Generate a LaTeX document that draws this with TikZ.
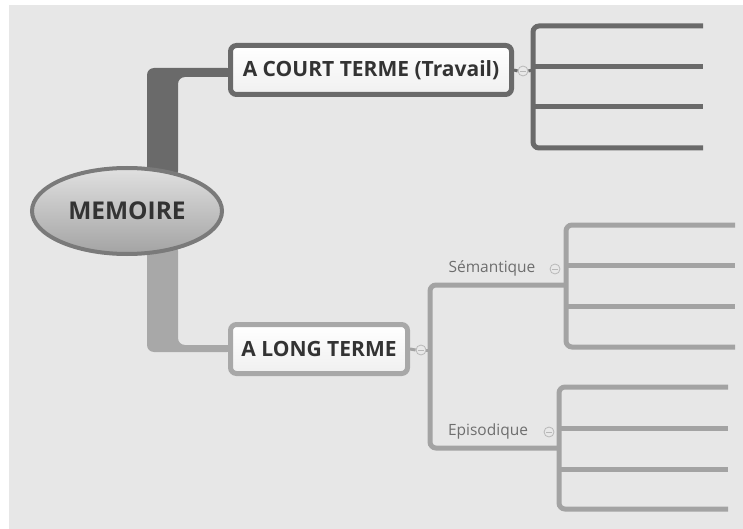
\documentclass[tikz,border=0pt]{standalone}
\usepackage{fontspec}
\setmainfont{Open Sans}
\usetikzlibrary{shapes.geometric,calc,backgrounds}
\definecolor{bgc}{HTML}{E7E7E7}
\definecolor{topc}{HTML}{6A6A6A}
\definecolor{lowc}{HTML}{A3A3A3}
\definecolor{barlow}{HTML}{A8A8A8}
\definecolor{txtc}{HTML}{333333}
\definecolor{lblc}{HTML}{6E6E6E}
\definecolor{icoc}{HTML}{B8B8B8}
\tikzset{
  topicbox/.style={rectangle,rounded corners=6pt,line width=5pt,inner sep=0pt,
    minimum height=49pt,top color=white,bottom color=black!6,text=txtc,
    font=\bfseries\fontsize{21}{24}\selectfont},
  central/.style={ellipse,line width=4pt,draw=black!52,inner sep=0pt,
    minimum width=190pt,minimum height=86pt,top color=black!12,bottom color=black!36,
    text=txtc,font=\bfseries\fontsize{24.5}{28}\selectfont},
  sublabel/.style={inner sep=0pt,text=lblc,font=\fontsize{15.5}{18}\selectfont},
  icon/.style={circle,draw=icoc,fill=black!9,line width=0.8pt,minimum size=10pt,inner sep=0pt,
    path picture={\draw[icoc,line width=0.8pt] ([xshift=-2.6pt]path picture bounding box.center) -- ([xshift=2.6pt]path picture bounding box.center);}},
  toplines/.style={draw=topc,line width=5pt},
  lowlines/.style={draw=lowc,line width=5pt},
}
\begin{document}
\begin{tikzpicture}[x=1pt,y=-1pt]
\useasboundingbox (0,0) rectangle (743,529);

% nodes
\node[central] (mem) at (127,211) {MEMOIRE};
\node[topicbox,draw=topc,minimum width=281pt] (court) at (371,70) {A COURT TERME (Travail)};
\node[topicbox,draw=barlow,minimum width=177pt] (long) at (319,349) {A LONG TERME};
\node[icon] (ic1) at (523,71) {};
\node[icon] (ic2) at (421,350) {};
\node[sublabel] (sem) at (492,268) {Sémantique};
\node[icon] (ic3) at (555,269) {};
\node[sublabel] (epi) at (488,431) {Episodique};
\node[icon] (ic4) at (549,432) {};

\coordinate (bt) at (533,70);
\coordinate (bl) at (430,350);

\begin{scope}[on background layer]
\fill[white] (0,0) rectangle (743,529);
\fill[bgc] (9,5) rectangle (743,529);
% main branches
\fill[topc,rounded corners=7pt] ($(mem.north)+(20,12)$) -- (147,68) -- ($(court.west)+(6,-2)$)
  -- ($(court.west)+(6,7)$) -- (178,77) -- ($(mem.north)+(51,12)$) -- cycle;
\fill[barlow,rounded corners=7pt] ($(mem.south)+(20,-12)$) -- (147,352) -- ($(long.west)+(6,3)$)
  -- ($(long.west)+(6,-4)$) -- (178,345) -- ($(mem.south)+(51,-12)$) -- cycle;
% connectors to icons
\draw[topc,line width=3pt] (court.east) -- (ic1.west);
\draw[topc,line width=3pt] (ic1.east) -- (bt);
\draw[lowc,line width=3pt] (long.east) -- (ic2.west);
\draw[lowc,line width=3pt] (ic2.east) -- (bl);
\end{scope}

% upper bracket
\draw[toplines,rounded corners=6pt] (703,26) -- (533,26) -- (533,148) -- (703,148);
\draw[toplines] (533,67) -- (703,67);
\draw[toplines] (533,107) -- (703,107);

% lower fork
\draw[lowlines,rounded corners=6pt] (566,285) -- (430,285) -- (430,448) -- (559,448);
% semantique bracket
\draw[lowlines,rounded corners=6pt] (735,225) -- (566,225) -- (566,347) -- (735,347);
\draw[lowlines] (566,265) -- (735,265);
\draw[lowlines] (566,306) -- (735,306);
% episodique bracket
\draw[lowlines,rounded corners=6pt] (728,387) -- (559,387) -- (559,509) -- (728,509);
\draw[lowlines] (559,428) -- (728,428);
\draw[lowlines] (559,469) -- (728,469);
\end{tikzpicture}
\end{document}
